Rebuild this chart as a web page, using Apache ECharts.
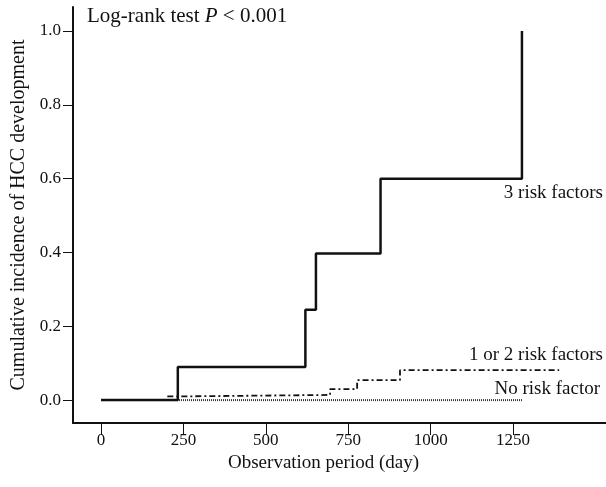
<!DOCTYPE html>
<html>
<head>
<meta charset="utf-8">
<script src="https://cdn.jsdelivr.net/npm/echarts@6/dist/echarts.min.js"></script>
<style>
html, body { margin: 0; background: #fff; }
#main { width: 606px; height: 487px; }
</style>
</head>
<body>
<div id="main"></div>
<script>
// tick labels
const xTicks = [0, 250, 500, 750, 1000, 1250]
const yTicks = [0, 0.2, 0.4, 0.6, 0.8, 1.0]

// [day, cumulative incidence] - step changes
const threeRisk = [[0, 0], [233, 0.09], [620, 0.245], [652, 0.397], [848, 0.6], [1277, 1.0]]
const oneTwoRisk = [[0, 0], [200, 0.01], [233, 0.014], [695, 0.03], [777, 0.054], [907, 0.081], [1390, 0.081]]
const noRisk = [[0, 0], [1280, 0]]

const font = 'Liberation Serif'
const ink = '#111'

var myChart = echarts.init(document.getElementById('main'))

const options = {
  backgroundColor: '#fff',
  animation: false,
  textStyle: { fontFamily: font, color: ink },
  grid: { left: 73, right: 0, top: 7, bottom: 64 },
  xAxis: {
    type: 'value',
    min: -85,
    max: 1532,
    name: 'Observation period (day)',
    nameLocation: 'middle',
    nameGap: 28,
    nameTextStyle: { fontFamily: font, fontSize: 19, color: ink, padding: [0, 32, 0, 0] },
    axisLine: { onZero: false, lineStyle: { color: ink, width: 2 } },
    axisTick: { length: 12, customValues: xTicks, lineStyle: { color: ink, width: 1 } },
    axisLabel: {
      customValues: xTicks, fontFamily: font, fontSize: 17, color: ink, margin: 9,
      formatter: v => String(v)
    },
    splitLine: { show: false }
  },
  yAxis: {
    type: 'value',
    min: -0.062,
    max: 1.065,
    name: 'Cumulative incidence of HCC development',
    nameLocation: 'middle',
    nameGap: 41,
    nameTextStyle: { fontFamily: font, fontSize: 20, color: ink },
    axisLine: { onZero: false, lineStyle: { color: ink, width: 2 } },
    axisTick: { length: 10, customValues: yTicks, lineStyle: { color: ink, width: 1 } },
    axisLabel: {
      customValues: yTicks,
      fontFamily: font, fontSize: 17, color: ink, margin: 12,
      formatter: v => v.toFixed(1)
    },
    splitLine: { show: false }
  },
  series: [
    {
      name: 'No risk factor',
      type: 'line',
      step: 'end',
      symbol: 'none',
      data: noRisk,
      lineStyle: { color: '#333', width: 2, type: [1, 1] }
    },
    {
      name: '1 or 2 risk factors',
      type: 'line',
      step: 'end',
      symbol: 'none',
      data: oneTwoRisk,
      lineStyle: { color: ink, width: 1.8, type: [6, 3, 2, 3] }
    },
    {
      name: '3 risk factors',
      type: 'line',
      step: 'end',
      symbol: 'none',
      data: threeRisk,
      lineStyle: { color: ink, width: 2.5 }
    }
  ],
  graphic: [
    {
      type: 'text', left: 87, top: 6,
      style: {
        text: '{a|Log-rank test }{i|P}{a| < 0.001}',
        rich: {
          a: { fontFamily: font, fontSize: 21, fill: ink },
          i: { fontFamily: font, fontSize: 21, fontStyle: 'italic', fill: ink }
        }
      }
    },
    { type: 'text', right: 3, top: 184, style: { text: '3 risk factors', fontFamily: font, fontSize: 19, fill: ink } },
    { type: 'text', right: 3, top: 346, style: { text: '1 or 2 risk factors', fontFamily: font, fontSize: 19, fill: ink } },
    { type: 'text', right: 6, top: 380, style: { text: 'No risk factor', fontFamily: font, fontSize: 19, fill: ink } }
  ]
}

myChart.setOption(options)
</script>
</body>
</html>
